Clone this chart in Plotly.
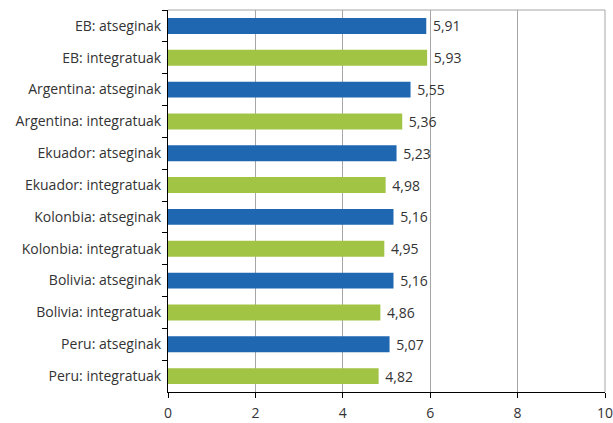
import plotly.graph_objects as go

categories = [
    "EB: atseginak", "EB: integratuak",
    "Argentina: atseginak", "Argentina: integratuak",
    "Ekuador: atseginak", "Ekuador: integratuak",
    "Kolonbia: atseginak", "Kolonbia: integratuak",
    "Bolivia: atseginak", "Bolivia: integratuak",
    "Peru: atseginak", "Peru: integratuak",
]
values = [5.91, 5.93, 5.55, 5.36, 5.23, 4.98, 5.16, 4.95, 5.16, 4.86, 5.07, 4.82]
x_ticks = [0, 2, 4, 6, 8, 10]

BLUE = "#1F67B1"
GREEN = "#A2C445"
colors = [BLUE if "atseginak" in c else GREEN for c in categories]
labels = [" " + f"{v:.2f}".replace(".", ",") for v in values]

FONT = "Open Sans"

fig = go.Figure(go.Bar(
    y=categories, x=values, orientation="h",
    marker=dict(color=colors, line=dict(width=0)),
    text=labels, textposition="outside", cliponaxis=False, constraintext="none",
    textfont=dict(family=FONT, size=14, color="#333333"),
    hoverinfo="skip",
))

fig.update_layout(
    width=613, height=423,
    margin=dict(l=168, r=8, t=10, b=31, autoexpand=False),
    paper_bgcolor="white", plot_bgcolor="white",
    bargap=0.5, showlegend=False,
    font=dict(family=FONT, size=14, color="#333333"),
    shapes=[
        dict(type="line", xref="paper", yref="paper", x0=0, x1=1, y0=1, y1=1,
             line=dict(color="#A6A6A6", width=1), layer="above"),
        dict(type="line", xref="paper", yref="paper", x0=1, x1=1, y0=0, y1=1,
             line=dict(color="#A6A6A6", width=1), layer="above"),
    ],
)
fig.update_xaxes(
    range=[0, 10], tickvals=x_ticks, ticktext=[str(t) for t in x_ticks],
    showgrid=True, gridcolor="#A6A6A6", gridwidth=1,
    showline=True, linecolor="#000000", linewidth=1,
    ticks="outside", ticklen=5, tickcolor="#000000",
    zeroline=False, automargin=False, ticklabeloverflow="allow",
    ticklabelstandoff=3,
)
fig.update_yaxes(
    categoryorder="array", categoryarray=categories, autorange="reversed",
    showline=True, linecolor="#000000", linewidth=1,
    ticks="outside", ticklen=5, tickcolor="#000000", tickson="boundaries",
    showgrid=False, automargin=False, ticklabeloverflow="allow",
    ticklabelstandoff=3,
)

fig.write_html("out.html", config={"displayModeBar": False, "staticPlot": True})

with open("out.html", "r", encoding="utf-8") as f:
    html = f.read()
html = html.replace("<head>", "<head><style>html,body{margin:0;padding:0;overflow:hidden;}</style>", 1)
with open("out.html", "w", encoding="utf-8") as f:
    f.write(html)
